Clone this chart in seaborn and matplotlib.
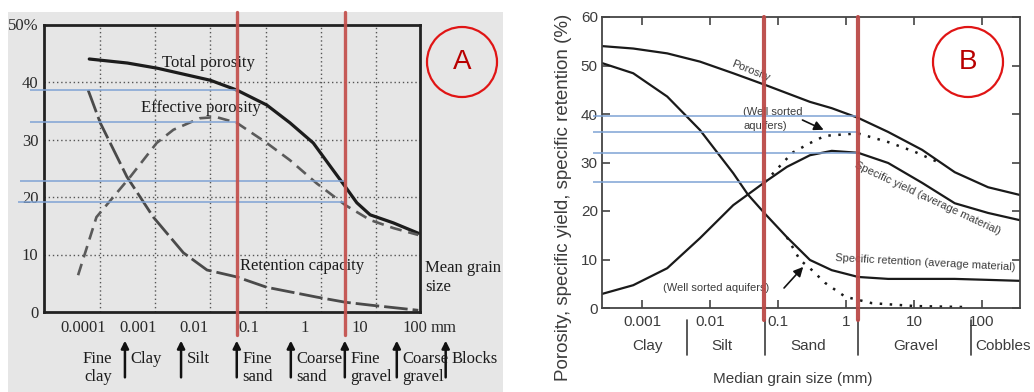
import matplotlib

matplotlib.use("Agg")
import matplotlib.pyplot as plt
import seaborn as sns
from matplotlib.patches import Ellipse, Rectangle

# ---------------- panel A (book figure, mean grain size in mm) ----------------
a_total_size = [1.29e-4, 6.3e-4, 2.19e-3, 0.020, 0.060, 0.209, 0.55, 1.45, 3.3, 5.5, 8.9, 15.5, 40.7, 115]
a_total = [44.0, 43.3, 42.4, 40.3, 38.6, 36.0, 32.9, 29.4, 24.7, 21.8, 19.0, 16.9, 15.5, 13.7]
a_eff_size = [8.1e-5, 1.74e-4, 7.1e-4, 2.14e-3, 4.3e-3, 0.0129, 0.0257, 0.060, 0.209, 0.55, 1.66, 5.5, 15.5, 40.7, 115]
a_eff = [6.4, 16.5, 23.5, 29.4, 31.7, 33.7, 33.9, 32.9, 29.4, 26.4, 22.4, 18.6, 16.0, 14.6, 13.4]
a_ret_size = [1.23e-4, 2.04e-4, 6.2e-4, 1.86e-3, 6.5e-3, 0.0174, 0.060, 0.209, 1.66, 5.5, 15.5, 115]
a_ret = [38.6, 32.9, 23.5, 16.5, 10.3, 7.3, 6.1, 4.3, 2.6, 1.7, 1.2, 0.3]

a_ticks = [1e-4, 1e-3, 1e-2, 0.1, 1, 10, 100]
a_tick_labels = ["0.0001", "0.001", "0.01", "0.1", "1", "10", "100"]
a_yticks = [0, 10, 20, 30, 40, 50]
a_ytick_labels = ["0", "10", "20", "30", "40", "50%"]
a_grid_x = [2e-4, 2e-3, 2e-2, 0.2, 2, 20]
a_bounds = [5.7e-4, 0.0059, 0.060, 0.57, 5.4, 47, 360]
a_classes = ["Fine\nclay", "Clay", "Silt", "Fine\nsand", "Coarse\nsand",
             "Fine\ngravel", "Coarse\ngravel", "Blocks"]

# hand-drawn markers on top of the figure
a_red_x = [0.060, 5.4]
a_blue_y = [38.6, 33.0, 22.8, 19.1]
a_blue_start = [1.1e-5, 1.1e-5, 7.2e-6, 6.6e-6]
a_blue_end = [0.060, 0.060, 5.4, 5.4]

# ---------------- panel B (median grain size in mm) ----------------
b_size = [2.57e-4, 7.4e-4, 2.34e-3, 7.1e-3, 0.0219, 0.036, 0.0646, 0.135, 0.295, 0.617, 1.51, 4.17, 13.2, 39.8, 123, 363]
b_porosity = [54.0, 53.5, 52.5, 50.8, 48.4, 47.3, 46.0, 44.3, 42.5, 41.2, 39.2, 36.3, 32.6, 28.0, 24.9, 23.3]
b_retention = [50.5, 48.4, 43.6, 36.7, 27.8, 23.4, 19.4, 14.6, 9.9, 7.8, 6.4, 6.0, 6.0, 6.0, 5.8, 5.6]
b_yield = [2.9, 4.7, 8.2, 14.4, 21.2, 23.4, 26.0, 29.1, 31.5, 32.4, 32.0, 29.9, 25.8, 21.6, 19.6, 18.1]
b_yield_ws_size = [0.0646, 0.085, 0.162, 0.295, 0.49, 1.5, 4.2, 10.3, 22.4]
b_yield_ws = [26.0, 27.8, 32.0, 34.0, 35.5, 36.0, 34.2, 32.2, 30.1]
b_ret_ws_size = [0.135, 0.21, 0.295, 0.49, 0.98, 2.4, 10.3, 56]
b_ret_ws = [14.6, 9.9, 8.2, 5.2, 2.3, 1.0, 0.4, 0.2]

b_ticks = [1e-3, 1e-2, 0.1, 1, 10, 100]
b_tick_labels = ["0.001", "0.01", "0.1", "1", "10", "100"]
b_classes = ["Clay", "Silt", "Sand", "Gravel", "Cobbles"]
b_class_x = [0.0012, 0.015, 0.28, 10.7, 204]
b_bounds = [0.0045, 0.065, 1.5, 69]

b_red_x = [0.062, 1.5]
b_blue_y = [39.5, 36.3, 32.0, 26.0]
b_blue_end = [1.5, 1.5, 1.5, 0.062]

sns.set_style("ticks")
SERIF = "Liberation Serif"
SANS = "Liberation Sans"
plt.rcParams["font.family"] = [SANS, "DejaVu Sans"]

fig = plt.figure(figsize=(10.34, 3.92), dpi=100)
W, H = 1034, 392

# grey paper behind the photographed figure
fig.add_artist(Rectangle((8 / W, 0), 495 / W, 380 / H, transform=fig.transFigure,
                         facecolor="#e6e6e6", edgecolor="none", zorder=-1))

# ======================= panel A =======================
axA = fig.add_axes([44 / W, 80 / H, 376 / W, 287.5 / H])
axA.set_facecolor("none")
ink = "#1c1c1c"

sns.lineplot(x=a_total_size, y=a_total, ax=axA, color=ink, lw=2.3, estimator=None, errorbar=None)
sns.lineplot(x=a_eff_size, y=a_eff, ax=axA, color="#5a5a5a", lw=1.9,
             linestyle=(0, (4.5, 2.6)), estimator=None, errorbar=None)
sns.lineplot(x=a_ret_size, y=a_ret, ax=axA, color="#4a4a4a", lw=2.0,
             linestyle=(0, (8.5, 1.8)), estimator=None, errorbar=None)

axA.set_xscale("log")
axA.set_xlim(1.96e-5, 123.6)
axA.set_ylim(0, 50)
axA.vlines(a_grid_x, 0, 50, colors="#555555", lw=1.0, linestyles=(0, (1, 2)), zorder=1)
axA.hlines([10, 20, 30, 40], 1.96e-5, 123.6, colors="#555555", lw=1.0,
           linestyles=(0, (1, 2)), zorder=1)
axA.minorticks_off()
axA.set_xticks(a_ticks, a_tick_labels, fontfamily=SERIF, fontsize=12, color="#2a2a2a")
axA.set_yticks(a_yticks, a_ytick_labels, fontfamily=SERIF, fontsize=12, color="#2a2a2a")
axA.tick_params(length=0)
axA.tick_params(axis="x", pad=6)
axA.tick_params(axis="y", pad=4)
for s in axA.spines.values():
    s.set_linewidth(2)
    s.set_color("#222222")

axA.annotate("mm", xy=(100, 0), xycoords=("data", "axes fraction"), xytext=(11, -6),
             textcoords="offset points", ha="left", va="top", fontsize=12,
             fontfamily=SERIF, color="#2a2a2a", annotation_clip=False)

axA.text(2.7e-3, 43.3, "Total porosity", fontfamily=SERIF, fontsize=12, color=ink, va="center")
axA.text(1.1e-3, 35.5, "Effective porosity", fontfamily=SERIF, fontsize=12, color=ink, va="center")
axA.text(0.069, 8.0, "Retention capacity", fontfamily=SERIF, fontsize=12, color=ink, va="center")
axA.text(1.013, 0.12, "Mean grain\nsize", transform=axA.transAxes, fontfamily=SERIF,
         fontsize=12, color=ink, va="center", ha="left")

# class boundaries with arrows under the axis
for b in a_bounds:
    axA.annotate("", xy=(b, -0.09), xytext=(b, -0.237), xycoords=("data", "axes fraction"),
                 annotation_clip=False,
                 arrowprops=dict(arrowstyle="-|>", color="#111111", lw=1.8, mutation_scale=11))
for i, name in enumerate(a_classes):
    if i == 0:
        xy, dx, ha = a_bounds[0], -9, "right"
    else:
        xy, dx, ha = a_bounds[i - 1], 4, "left"
    axA.annotate(name, xy=(xy, -0.135), xycoords=("data", "axes fraction"), xytext=(dx, 0),
                 textcoords="offset points", ha=ha, va="top", fontsize=12, fontfamily=SERIF,
                 color=ink, linespacing=1.15, annotation_clip=False)

for x in a_red_x:
    axA.axvline(x, ymin=-0.08, ymax=1.043, color="#c4524f", lw=2.4, alpha=0.95,
                clip_on=False, zorder=6)
axA.hlines(a_blue_y, a_blue_start, a_blue_end, colors="#7fa3d4", lw=1.1, clip_on=False, zorder=5)
axA.set_xlabel("")
axA.set_ylabel("")

# ======================= panel B =======================
axB = fig.add_axes([602 / W, 84 / H, 418 / W, 291 / H])
grey = "#3c3c3c"

for yv in (b_porosity, b_retention, b_yield):
    sns.lineplot(x=b_size, y=yv, ax=axB, color="#1a1a1a", lw=1.6, estimator=None, errorbar=None)
sns.lineplot(x=b_yield_ws_size, y=b_yield_ws, ax=axB, color="#1a1a1a", lw=1.8,
             linestyle=(0, (1, 3)), estimator=None, errorbar=None)
sns.lineplot(x=b_ret_ws_size, y=b_ret_ws, ax=axB, color="#1a1a1a", lw=1.8,
             linestyle=(0, (1, 3)), estimator=None, errorbar=None)

axB.set_xscale("log")
axB.set_xlim(2.57e-4, 363)
axB.set_ylim(0, 60)
axB.minorticks_off()
axB.set_xticks(b_ticks, b_tick_labels)
axB.set_yticks(range(0, 61, 10))
axB.tick_params(direction="in", length=6, width=1.2, top=True, right=True,
                labelsize=11, labelcolor=grey, color="#444444")
axB.tick_params(axis="x", pad=5)
axB.tick_params(axis="y", pad=3)
for s in axB.spines.values():
    s.set_linewidth(1.3)
    s.set_color("#444444")

axB.set_xlabel("Median grain size (mm)", fontsize=11, color=grey)
axB.xaxis.set_label_coords(0.457, -0.22)
axB.set_ylabel("Porosity, specific yield, specific retention (%)", fontsize=13.5, color=grey)
axB.yaxis.set_label_coords(-0.072, 0.381)

xt = axB.get_xaxis_transform()
for name, x in zip(b_classes, b_class_x):
    axB.text(x, -0.131, name, transform=xt, ha="center", va="center", fontsize=11, color=grey)
for b in b_bounds:
    axB.plot([b, b], [-0.041, -0.162], transform=xt, color=grey, lw=1.2, clip_on=False)

axB.text(0.039, 48.9, "Porosity", rotation=-22, rotation_mode="anchor", ha="center",
         va="center", fontsize=8, color=grey)
axB.text(16, 22.7, "Specific yield (average material)", rotation=-25, rotation_mode="anchor",
         ha="center", va="center", fontsize=8, color=grey)
axB.text(14.5, 9.3, "Specific retention (average material)", rotation=-3, rotation_mode="anchor",
         ha="center", va="center", fontsize=8, color=grey)
axB.text(0.031, 39.0, "(Well sorted\naquifers)", ha="left", va="center", fontsize=8,
         color=grey, linespacing=1.5)
axB.text(0.0123, 4.1, "(Well sorted aquifers)", ha="center", va="center", fontsize=8, color=grey)
arrow = dict(arrowstyle="-|>", color="#111111", lw=1.2, mutation_scale=14)
axB.annotate("", xy=(0.51, 36.5), xytext=(0.21, 39.0), arrowprops=arrow)
axB.annotate("", xy=(0.25, 8.9), xytext=(0.115, 3.7), arrowprops=arrow)

for x in b_red_x:
    axB.axvline(x, ymin=-0.041, ymax=1.0, color="#bb4a48", lw=3, alpha=0.95,
                clip_on=False, zorder=6)
axB.hlines(b_blue_y, 1.9e-4, b_blue_end, colors="#7fa3d4", lw=1.1, clip_on=False, zorder=5)

# circled panel letters
for cx, letter in ((462, "A"), (968, "B")):
    fig.add_artist(Ellipse((cx / W, 1 - 62 / H), 70 / W, 70 / H, transform=fig.transFigure,
                           fill=False, edgecolor="#e01515", lw=1.6, zorder=7))
    fig.text(cx / W, 1 - 62 / H, letter, ha="center", va="center", fontsize=20,
             color="#b80000", fontfamily=SANS, zorder=8)

fig.savefig("out.png", dpi=100)
